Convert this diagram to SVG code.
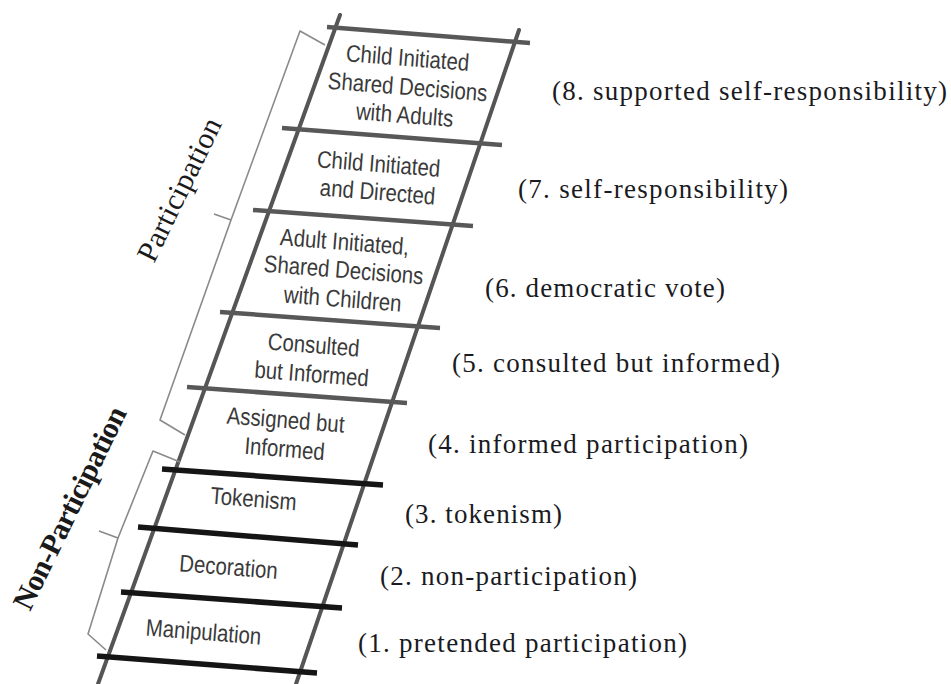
<svg xmlns="http://www.w3.org/2000/svg" width="951" height="684" viewBox="0 0 951 684">
<style>
.rail{stroke:#555;stroke-width:4;stroke-linecap:round;fill:none}
.rung{stroke:#585858;stroke-width:4.5;stroke-linecap:butt}
.rungd{stroke:#151515;stroke-width:5.5;stroke-linecap:butt}
.br{stroke:#8a8a8a;stroke-width:1.6;fill:none;stroke-linejoin:round}
.n{font-family:"Liberation Sans",Arial,sans-serif;font-size:24px;fill:#3a3a3a;text-anchor:middle}
.r{font-family:"Liberation Serif","Times New Roman",serif;font-size:27px;fill:#1a1a22}
.side{font-family:"Liberation Serif","Times New Roman",serif;font-size:30px;fill:#1a1a1a}
</style>
<rect width="951" height="684" fill="#fff"/>
<g id="ladder">
<line class="rail" x1="340" y1="15" x2="98" y2="684"/>
<line class="rail" x1="519" y1="30" x2="296" y2="684"/>
<line class="rung" x1="327" y1="27" x2="530" y2="43"/>
<line class="rung" x1="282" y1="128" x2="502" y2="145"/>
<line class="rung" x1="253" y1="210" x2="473" y2="226"/>
<line class="rung" x1="220" y1="312" x2="440" y2="328"/>
<line class="rung" x1="187" y1="387" x2="407" y2="403"/>
<line class="rungd" x1="162" y1="469" x2="383" y2="485"/>
<line class="rungd" x1="138" y1="527" x2="358" y2="545"/>
<line class="rungd" x1="121" y1="592" x2="342" y2="608"/>
<line class="rungd" x1="97" y1="656" x2="317" y2="673"/>
</g>
<g id="connectors">
<path class="br" d="M325,45 L300,31 L231,220 L214,214 M231,220 L160,420 L185,435"/>
<path class="br" d="M180,462 L153,451 L118,538 L99,531 M118,538 L88,634 L106,650"/>
</g>
<g id="step-8">
<text class="n" transform="translate(407,66) rotate(4.5) scale(0.85,1)">Child Initiated</text>
<text class="n" transform="translate(407,95) rotate(4.5) scale(0.85,1)">Shared Decisions</text>
<text class="n" transform="translate(404,123) rotate(4.5) scale(0.85,1)">with Adults</text>
<text class="r" x="552" y="100" textLength="395" lengthAdjust="spacing">(8. supported self-responsibility)</text>
</g>
<g id="step-7">
<text class="n" transform="translate(378,172) rotate(4.5) scale(0.85,1)">Child Initiated</text>
<text class="n" transform="translate(377,200) rotate(4.5) scale(0.85,1)">and Directed</text>
<text class="r" x="518" y="198" textLength="270" lengthAdjust="spacing">(7. self-responsibility)</text>
</g>
<g id="step-6">
<text class="n" transform="translate(344,250) rotate(4.5) scale(0.85,1)">Adult Initiated,</text>
<text class="n" transform="translate(343,278) rotate(4.5) scale(0.85,1)">Shared Decisions</text>
<text class="n" transform="translate(342,307) rotate(4.5) scale(0.85,1)">with Children</text>
<text class="r" x="485" y="297" textLength="240" lengthAdjust="spacing">(6. democratic vote)</text>
</g>
<g id="step-5">
<text class="n" transform="translate(313,353) rotate(4.5) scale(0.85,1)">Consulted</text>
<text class="n" transform="translate(311,382) rotate(4.5) scale(0.85,1)">but Informed</text>
<text class="r" x="452" y="372" textLength="328" lengthAdjust="spacing">(5. consulted but informed)</text>
</g>
<g id="step-4">
<text class="n" transform="translate(285,428) rotate(4.5) scale(0.85,1)">Assigned but</text>
<text class="n" transform="translate(284,457) rotate(4.5) scale(0.85,1)">Informed</text>
<text class="r" x="428" y="453" textLength="320" lengthAdjust="spacing">(4. informed participation)</text>
</g>
<g id="step-3">
<text class="n" transform="translate(253,507) rotate(4.5) scale(0.85,1)">Tokenism</text>
<text class="r" x="405" y="523" textLength="157" lengthAdjust="spacing">(3. tokenism)</text>
</g>
<g id="step-2">
<text class="n" transform="translate(228,575) rotate(4.5) scale(0.85,1)">Decoration</text>
<text class="r" x="380" y="585" textLength="257" lengthAdjust="spacing">(2. non-participation)</text>
</g>
<g id="step-1">
<text class="n" transform="translate(203,640) rotate(4.5) scale(0.85,1)">Manipulation</text>
<text class="r" x="358" y="652" textLength="329" lengthAdjust="spacing">(1. pretended participation)</text>
</g>
<g id="group-participation">
<text class="side" transform="translate(154,264) rotate(-64)" textLength="156" lengthAdjust="spacing">Participation</text>
</g>
<g id="group-non-participation">
<text class="side" font-weight="bold" transform="translate(30,612) rotate(-64)" textLength="222" lengthAdjust="spacing">Non-Participation</text>
</g>
</svg>
